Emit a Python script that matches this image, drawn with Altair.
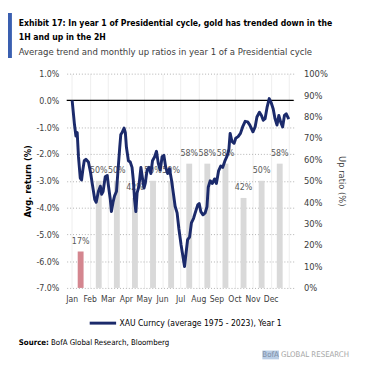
import altair as alt
import pandas as pd

FONT = "'DejaVu Sans Condensed', 'Liberation Sans Narrow', Roboto, sans-serif"
NAVY = "#1b2a6b"
GRAY_BAR = "#d9d9d9"
PINK_BAR = "#d4868f"

months = ["Jan", "Feb", "Mar", "Apr", "May", "Jun", "Jul", "Aug", "Sep", "Oct", "Nov", "Dec"]
up_ratio = [17, 50, 50, 42, 50, 50, 58, 58, 58, 42, 50, 58]

line_month = [0.03, 0.16, 0.24, 0.31, 0.38, 0.48, 0.55, 0.62, 0.7, 0.79, 0.93, 1.05, 1.14, 1.28, 1.36,
              1.48, 1.59, 1.66, 1.74, 1.86, 1.97, 2.03, 2.14, 2.2, 2.29, 2.38, 2.48, 2.55, 2.66, 2.72,
              2.79, 2.9, 2.97, 3.03, 3.14, 3.24, 3.34, 3.41, 3.48, 3.55, 3.62, 3.72, 3.83, 3.93, 4.0,
              4.07, 4.17, 4.28, 4.38, 4.47, 4.59, 4.69, 4.79, 4.9, 5.0, 5.1, 5.2, 5.31, 5.41, 5.52,
              5.62, 5.72, 5.83, 5.93, 6.05, 6.17, 6.24, 6.35, 6.41, 6.52, 6.62, 6.74, 6.83, 6.97, 7.05,
              7.14, 7.26, 7.38, 7.48, 7.55, 7.66, 7.78, 7.9, 8.0, 8.12, 8.24, 8.35, 8.47, 8.59, 8.69,
              8.76, 8.86, 8.98, 9.07, 9.2, 9.33, 9.45, 9.59, 9.73, 9.85, 10.02, 10.14, 10.24, 10.38,
              10.49, 10.59, 10.69, 10.8, 10.92, 11.02, 11.14, 11.24, 11.35, 11.45, 11.55, 11.66,
              11.76, 11.86, 12.0]
line_return = [0.0, -0.9, -1.33, -1.2, -2.1, -2.9, -2.97, -2.6, -2.25, -2.2, -2.3, -2.7, -3.1, -3.7, -3.8,
               -3.4, -3.2, -3.5, -3.4, -2.85, -2.8, -3.15, -3.7, -4.15, -3.8, -3.55, -3.4, -2.75, -1.75, -1.27,
               -1.2, -1.03, -1.2, -1.75, -2.25, -2.3, -2.5, -2.97, -3.7, -4.15, -3.45, -3.2, -2.5, -2.97, -3.27,
               -3.1, -2.6, -2.5, -2.73, -2.25, -2.1, -1.9, -2.35, -2.6, -2.1, -2.05, -2.5, -2.73, -2.55, -2.97,
               -3.45, -3.95, -4.2, -4.8, -5.4, -5.9, -6.2, -5.55, -5.2, -5.1, -4.57, -4.4, -4.2, -3.9, -3.85,
               -4.15, -4.27, -4.2, -3.97, -3.24, -3.0, -3.1, -2.93, -3.1, -2.63, -2.45, -2.5, -2.26, -2.08, -1.84,
               -1.23, -1.53, -1.6, -1.41, -1.35, -1.23, -0.99, -0.78, -0.8, -0.92, -1.17, -0.99, -0.62, -0.44,
               -0.56, -0.74, -0.68, -0.26, 0.07, -0.07, -0.32, -0.68, -0.92, -0.56, -0.8, -0.99,
               -0.56, -0.5, -0.7]

series_name = "XAU Curncy (average 1975 - 2023), Year 1"
title_lines = ["Exhibit 17: In year 1 of Presidential cycle, gold has trended down in the",
               "1H and up in the 2H"]
subtitle_text = "Average trend and monthly up ratios in year 1 of a Presidential cycle"

bars_df = pd.DataFrame({
    "m": [i + 0.5 for i in range(12)],
    "up": up_ratio,
    "label": [f"{v}%" for v in up_ratio],
})
line_df = pd.DataFrame({"m": line_month, "ret": line_return, "series": series_name})
zero_df = pd.DataFrame({"z": [0.0]})
one_df = pd.DataFrame({"k": [0]})

month_js = "[" + ",".join(f"'{m}'" for m in months) + "]"
x_enc = alt.X(
    "m:Q",
    scale=alt.Scale(domain=[0, 12], nice=False, zero=False),
    axis=alt.Axis(
        values=list(range(13)),
        labelExpr=f"datum.value < 12 ? {month_js}[datum.value] : ''",
        grid=True, gridColor="#eeeeee", gridWidth=1,
        domain=False, ticks=False, title=None,
        labelFont=FONT, labelFontSize=8.7, labelColor="#404040", labelPadding=7,
    ),
)

up_scale = alt.Scale(domain=[0, 100], nice=False, zero=True)
up_axis = alt.Axis(
    orient="right", values=list(range(0, 101, 10)),
    labelExpr="datum.value + '%'", grid=False, domain=False, ticks=False,
    labelFont=FONT, labelFontSize=9.5, labelColor="#404040", labelPadding=10,
    title="Up ratio (%)", titleFont=FONT, titleFontSize=9.5, titleFontWeight="normal",
    titleColor="#404040", titlePadding=9,
)
bars = alt.Chart(bars_df).mark_bar(size=6).encode(
    x=x_enc,
    y=alt.Y("up:Q", scale=up_scale, axis=up_axis),
    color=alt.condition(alt.datum.m < 1, alt.value(PINK_BAR), alt.value(GRAY_BAR)),
)
bar_text = alt.Chart(bars_df).mark_text(
    dy=-11, font=FONT, fontSize=9, color="#595959", baseline="middle"
).encode(x=x_enc, y=alt.Y("up:Q", scale=up_scale, axis=up_axis), text="label:N")

bar_layer = alt.layer(bars, bar_text)

ret_scale = alt.Scale(domain=[-7, 1], nice=False, zero=False)
ret_axis = alt.Axis(
    orient="left", values=list(range(-7, 2)),
    labelExpr="(datum.value < 0 ? '-' : '') + format(abs(datum.value), '.1f') + '%'",
    grid=True, gridDash=[1, 2], gridColor="#b0b0b0", domain=False, ticks=False,
    labelFont=FONT, labelFontSize=9, labelColor="#404040", labelPadding=8,
    title="Avg. return (%)", titleFont=FONT, titleFontSize=9.5, titleFontWeight="bold",
    titleColor="#000000", titlePadding=3,
)
zero_rule = alt.Chart(zero_df).mark_rule(color="#000000", strokeWidth=1.2).encode(
    y=alt.Y("z:Q", scale=ret_scale, axis=ret_axis)
)
line = alt.Chart(line_df).mark_line(strokeWidth=3, strokeJoin="round").encode(
    x=x_enc,
    y=alt.Y("ret:Q", scale=ret_scale, axis=ret_axis),
    color=alt.Color(
        "series:N", scale=alt.Scale(range=[NAVY]),
        legend=alt.Legend(
            orient="none", legendX=22, legendY=240, title=None, symbolType="stroke",
            symbolSize=729, symbolStrokeWidth=3, labelFont=FONT, labelFontSize=8.7,
            labelColor="#000000", labelLimit=300, labelOffset=2,
        ),
    ),
)


def text_at(txt, x, y, size, weight="normal", color="#000000"):
    return alt.Chart(one_df).mark_text(
        align="left", baseline="alphabetic", font=FONT, fontSize=size, fontWeight=weight, color=color
    ).encode(x=alt.value(x), y=alt.value(y), text=alt.value(txt))


accent = alt.Chart(one_df).mark_rect(color="#3a5fb0").encode(
    x=alt.value(-61), x2=alt.value(-56), y=alt.value(-62), y2=alt.value(-16)
)
title1 = text_at(title_lines[0], -49, -49, 8.8, "bold")
title2 = text_at(title_lines[1], -49, -34, 8.8, "bold")
subtitle = text_at(subtitle_text, -49, -19, 9.7, "normal", "#404040")
src_bold = text_at("Source:", -49, 277, 8, "bold")
src_rest = text_at("BofA Global Research, Bloomberg", -16, 277, 8)
brand_box = alt.Chart(one_df).mark_rect(color="#b9cde5").encode(
    x=alt.value(200), x2=alt.value(217), y=alt.value(283), y2=alt.value(292)
)
brand_a = text_at("BofA", 200, 290, 8, "normal", "#7f8fa6")
brand_b = text_at("GLOBAL RESEARCH", 219, 290, 8, "normal", "#a6a6a6")

ret_layer = alt.layer(zero_rule, line, accent, title1, title2, subtitle,
                      src_bold, src_rest, brand_box, brand_a, brand_b)

chart = alt.layer(bar_layer, ret_layer).resolve_scale(y="independent").properties(
    width=232,
    height=219,
    autosize=alt.AutoSizeParams(type="none"),
    padding={"left": 60, "top": 63, "right": 77, "bottom": 90},
).configure_view(stroke=None)

chart.save("out.html", embed_options={"renderer": "svg", "actions": False})
